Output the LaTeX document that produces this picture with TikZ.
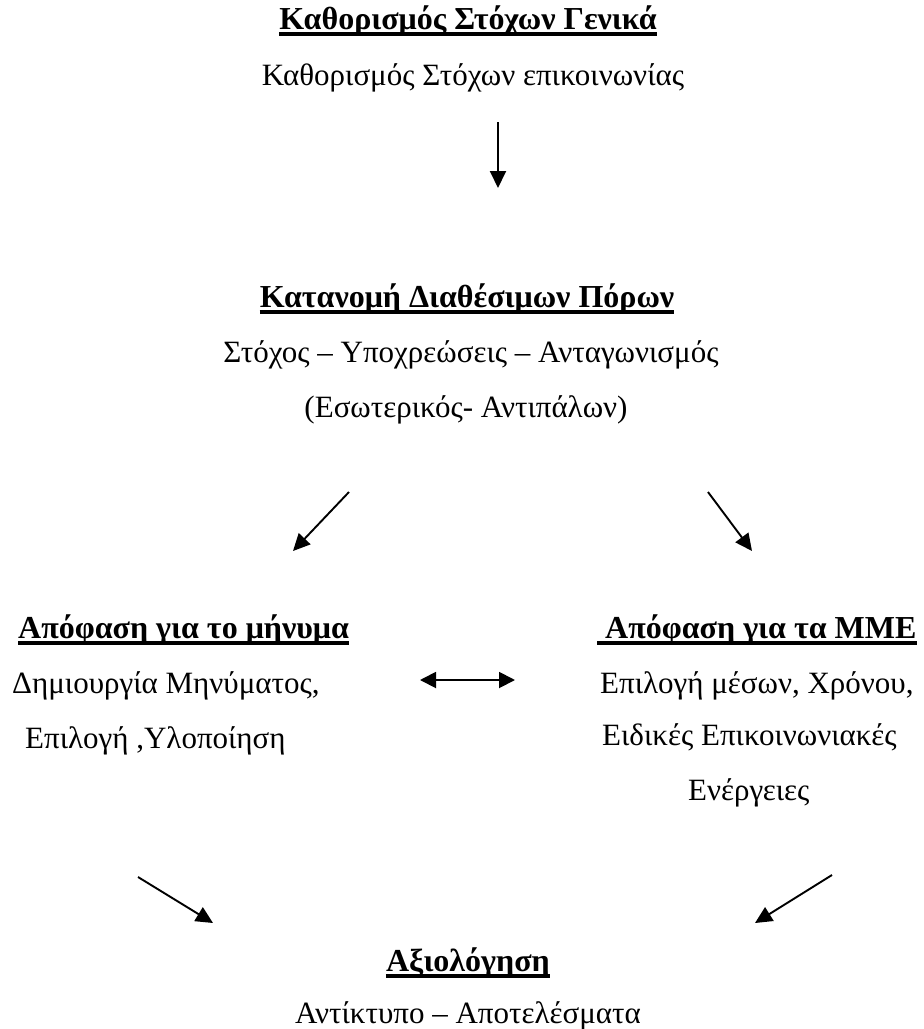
\documentclass[tikz,border=0pt]{standalone}
\usepackage{fontspec}
\setmainfont{Liberation Serif}
\usetikzlibrary{arrows.meta}
\tikzset{
  txt/.style={inner sep=0pt, font=\fontsize{31}{36}\selectfont},
  hd/.style={inner sep=0pt, font=\fontsize{32}{37}\selectfont\bfseries},
  arr/.style={line width=1.9pt, -{Triangle[length=17pt,width=16pt]}},
  dblarr/.style={line width=1.9pt, {Triangle[length=16pt,width=16pt]}-{Triangle[length=16pt,width=16pt]}},
  ul/.style={line width=3.2pt}
}
\begin{document}
\begin{tikzpicture}[x=1pt,y=-1pt]
\useasboundingbox[fill=white] (0,0) rectangle (924,1029);
% block 1
\node[hd, anchor=base] (t1) at (468,29) {Καθορισμός Στόχων Γενικά};
\draw[ul] ([yshift=-5pt]t1.base west) -- ([yshift=-5pt]t1.base east);
\node[txt, anchor=base] (l1) at (473,85) {Καθορισμός Στόχων επικοινωνίας};
\coordinate (a1s) at (498,122);
\coordinate (a1e) at (498,188);
\draw[arr] (a1s) -- (a1e);
% block 2
\node[hd, anchor=base] (t2) at (467,307) {Κατανομή Διαθέσιμων Πόρων};
\draw[ul] ([yshift=-5pt]t2.base west) -- ([yshift=-5pt]t2.base east);
\node[txt, anchor=base] (l2a) at (471,362) {Στόχος – Υποχρεώσεις – Ανταγωνισμός};
\node[txt, anchor=base] (l2b) at (466,417) {(Εσωτερικός- Αντιπάλων)};
\coordinate (als) at (349,492);
\coordinate (ale) at (293,551);
\coordinate (ars) at (708,492);
\coordinate (are) at (752,551);
\draw[arr] (als) -- (ale);
\draw[arr] (ars) -- (are);
% left block
\node[hd, anchor=base west] (hl) at (18,638) {Απόφαση για το μήνυμα};
\draw[ul] ([yshift=-5pt]hl.base west) -- ([yshift=-5pt]hl.base east);
\node[txt, anchor=base west] (hl2) at (12,693) {Δημιουργία Μηνύματος,};
\node[txt, anchor=base west] (hl3) at (25,748) {Επιλογή ,Υλοποίηση};
% right block
\node[hd, anchor=base west] (hr) at (605,638) {Απόφαση για τα ΜΜΕ};
\draw[ul] ([yshift=-5pt,xshift=-8pt]hr.base west) -- ([yshift=-5pt]hr.base east);
\node[txt, anchor=base west] (hr2) at (600,693) {Επιλογή μέσων, Χρόνου,};
\node[txt, anchor=base west] (hr3) at (602,745) {Ειδικές Επικοινωνιακές};
\node[txt, anchor=base west] (hr4) at (688,800) {Ενέργειες};
% double arrow
\coordinate (ds) at (420,680);
\coordinate (de) at (515,680);
\draw[dblarr] (ds) -- (de);
% lower arrows
\coordinate (bls) at (138,877);
\coordinate (ble) at (213,923);
\coordinate (brs) at (832,875);
\coordinate (bre) at (755,923);
\draw[arr] (bls) -- (ble);
\draw[arr] (brs) -- (bre);
% bottom block
\node[hd, anchor=base] (t3) at (468,971) {Αξιολόγηση};
\draw[ul] ([yshift=-5pt]t3.base west) -- ([yshift=-5pt]t3.base east);
\node[txt, anchor=base] (l3) at (468,1023) {Αντίκτυπο – Αποτελέσματα};
\end{tikzpicture}
\end{document}
